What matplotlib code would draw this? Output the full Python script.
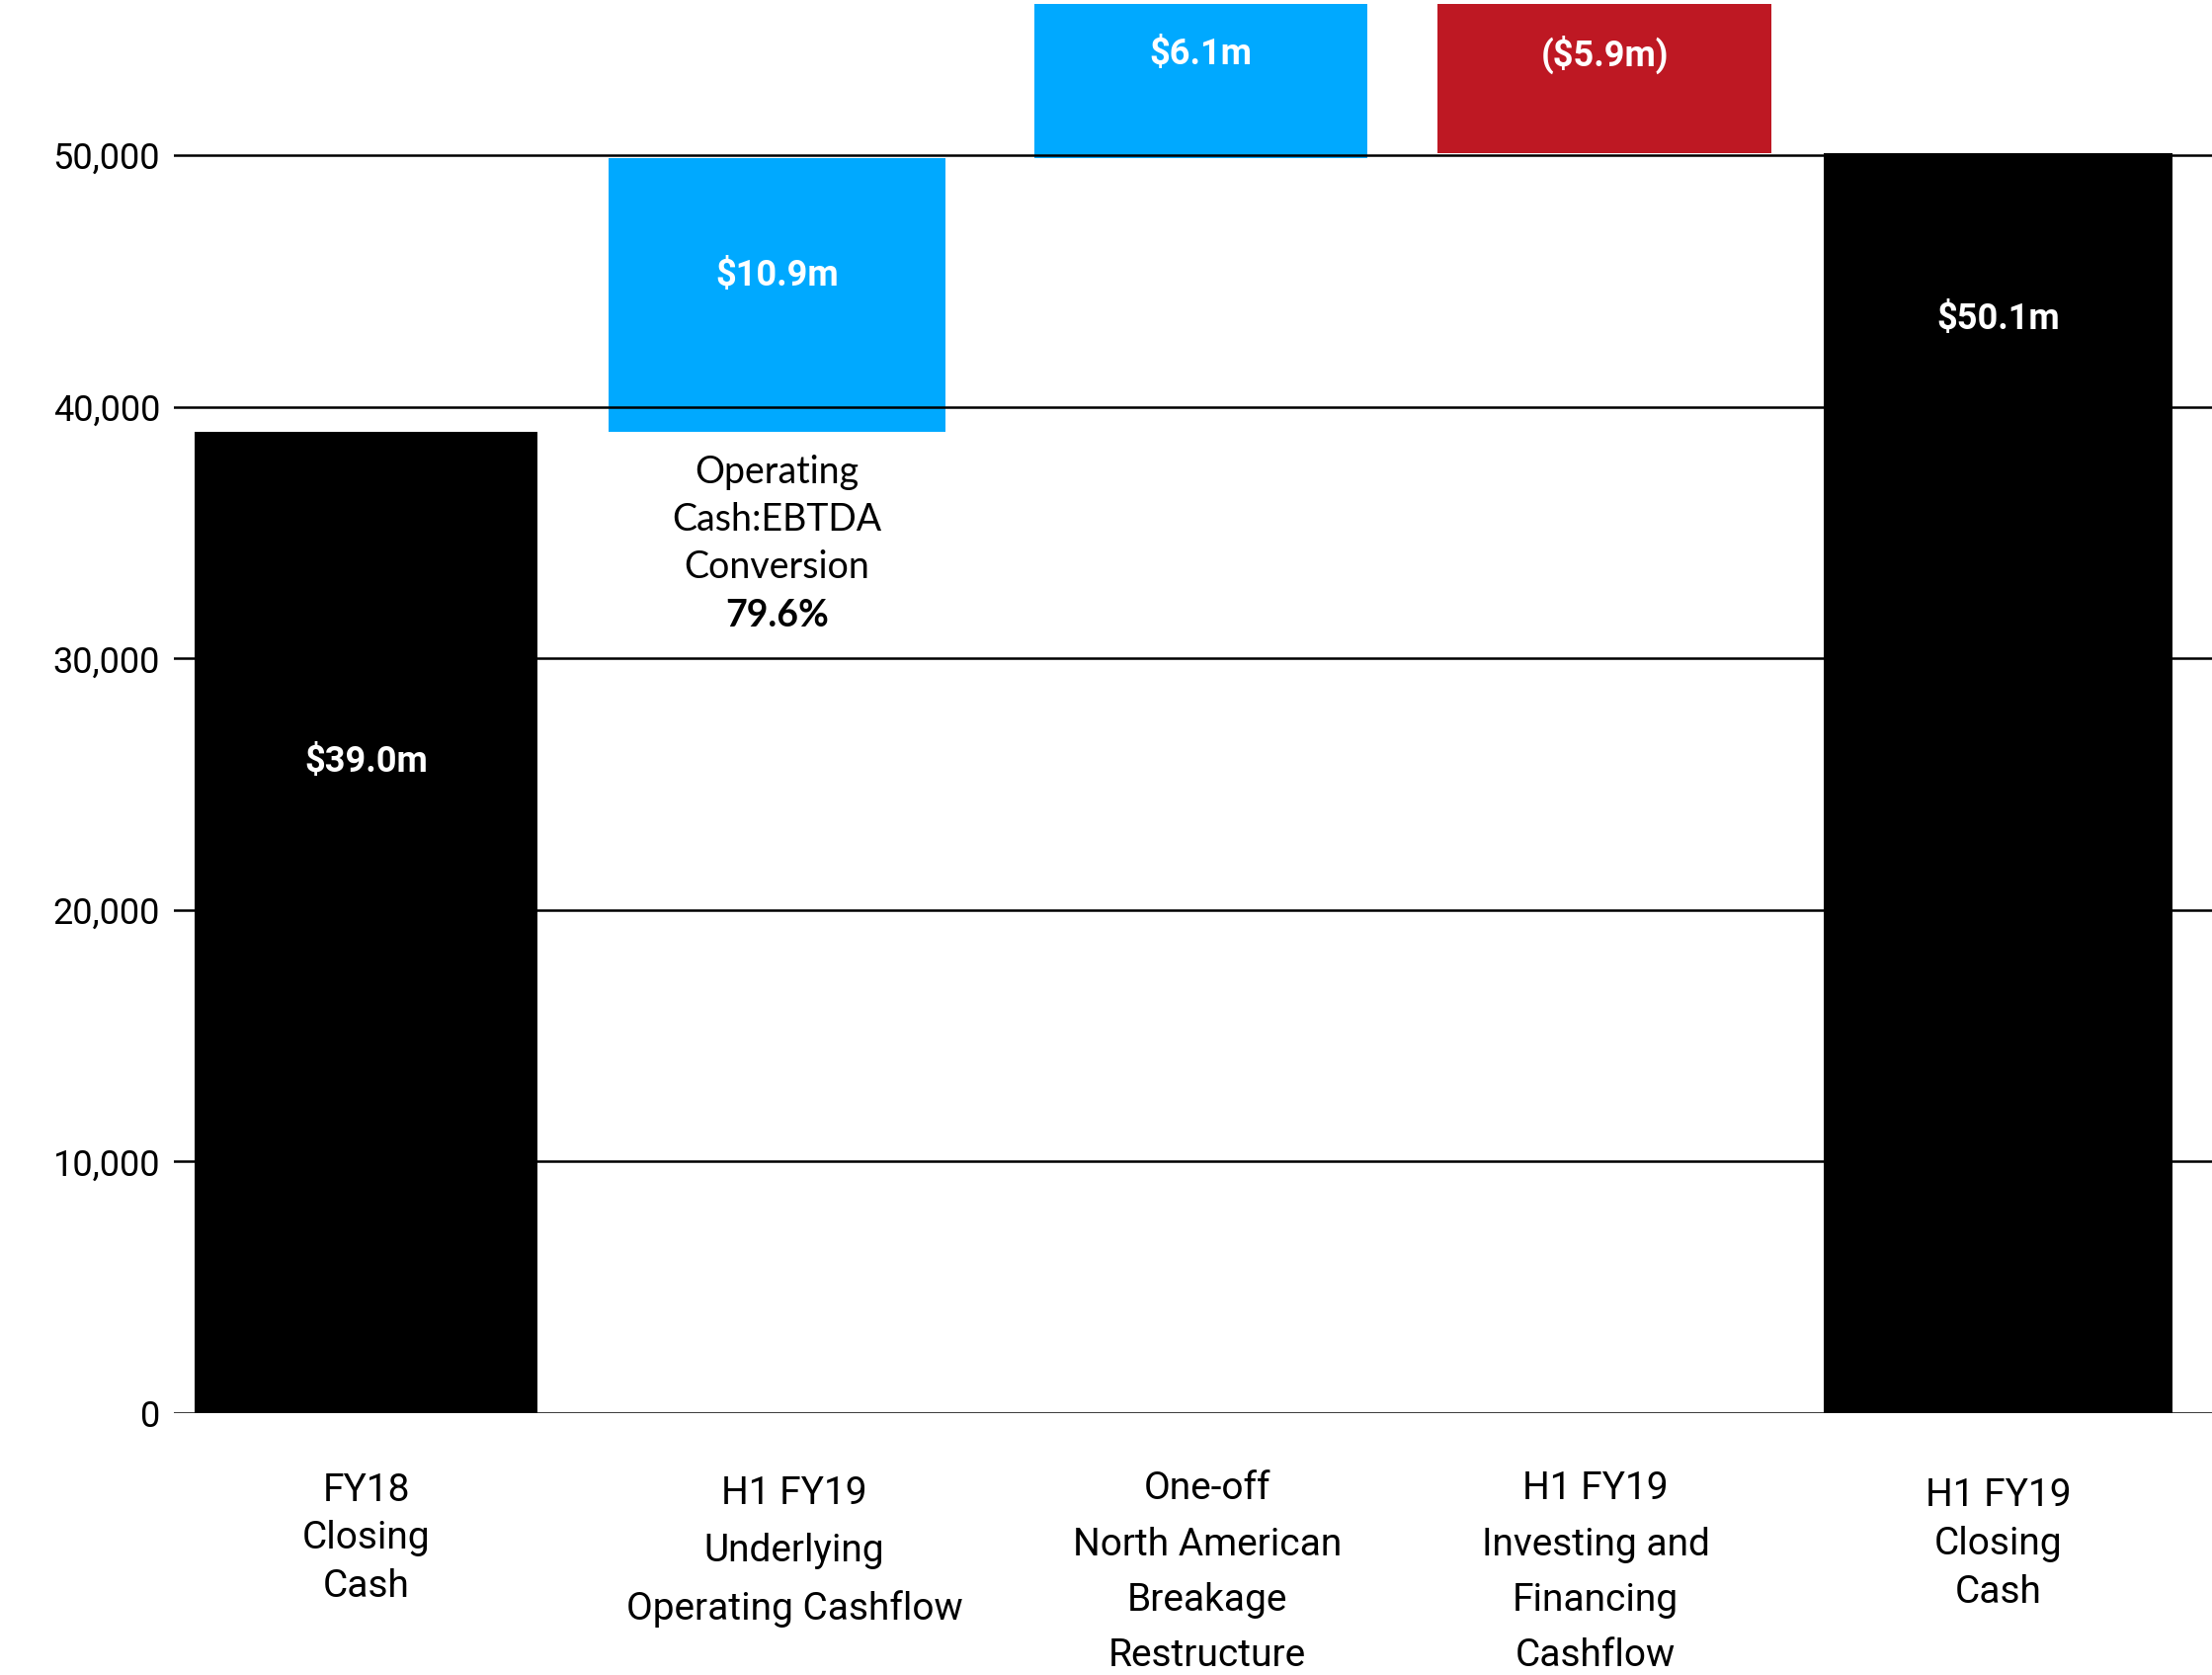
import matplotlib
matplotlib.use("Agg")
import matplotlib.pyplot as plt
from matplotlib.ticker import FuncFormatter

# data ($k)
categories = [
    "FY18\nClosing\nCash",
    "H1 FY19\nUnderlying\nOperating Cashflow",
    "One-off\nNorth American\nBreakage\nRestructure",
    "H1 FY19\nInvesting and\nFinancing\nCashflow",
    "H1 FY19\nClosing\nCash",
]
values = [39000, 10900, 6100, -5900, 50100]
is_total = [True, False, False, False, True]
bar_labels = ["$39.0m", "$10.9m", "$6.1m", "($5.9m)", "$50.1m"]
yticks = [0, 10000, 20000, 30000, 40000, 50000]
note_text = "Operating\nCash:EBTDA\nConversion"
note_value = "79.6%"

# layout
xpos = [0, 1.006, 2.045, 3.035, 4.0]
widths = [0.84, 0.826, 0.816, 0.819, 0.854]
label_x = [0, 1.049, 2.061, 3.013, 4.0]
label_y = [25900, 45200, 54000, 54000, 43500]
cat_offset = [-43, -45, -42, -42, -47]
cat_spacing = [1.40, 1.73, 1.66, 1.66, 1.40]

BLACK = "#000000"
BLUE = "#00A9FF"
RED = "#BE1823"

fig = plt.figure(figsize=(22.39, 16.95), dpi=100)
ax = fig.add_axes([0.0786, 0.1563, 0.9214, 0.8437])

running = 0
for i, v in enumerate(values):
    if is_total[i]:
        bottom, height, col = 0, v, BLACK
        running = v
    else:
        bottom, height = running, v
        col = BLUE if v > 0 else RED
        running += v
    ax.bar(xpos[i], height, bottom=bottom, width=widths[i], color=col,
           zorder=2, linewidth=0)
    ax.text(xpos[i], label_y[i], bar_labels[i].replace("$", r"\$"),
            ha="center", va="center", color="white", fontsize=26,
            fontweight="bold", family="Roboto", zorder=4)

# gridlines sit on top of the bars
for t in yticks:
    ax.axhline(t, color="black", lw=1.8, zorder=3)

ax.set_xlim(-0.472, 4.524)
ax.set_ylim(0, 56170)
ax.set_yticks(yticks)
ax.yaxis.set_major_formatter(FuncFormatter(lambda v, p: f"{int(v):,}"))
ax.tick_params(axis="y", length=0, pad=10, labelsize=26)
for lab in ax.get_yticklabels():
    lab.set_family("Roboto")
ax.set_xticks([])
for s in ax.spines.values():
    s.set_visible(False)

# category labels below axis
for i, c in enumerate(categories):
    ax.annotate(c, xy=(label_x[i], 0), xycoords=("data", "axes fraction"),
                xytext=(0, cat_offset[i]), textcoords="offset points",
                ha="center", va="top", fontsize=28, family="Roboto",
                linespacing=cat_spacing[i], annotation_clip=False)

# conversion note under the operating cashflow bar
ax.text(xpos[1], 35500, note_text, ha="center", va="center", fontsize=27,
        family="Lato", linespacing=1.41, zorder=4)
ax.text(xpos[1], 31700, note_value, ha="center", va="center", fontsize=27,
        family="Lato", fontweight="bold", zorder=4)

fig.savefig("out.png", dpi=100)
